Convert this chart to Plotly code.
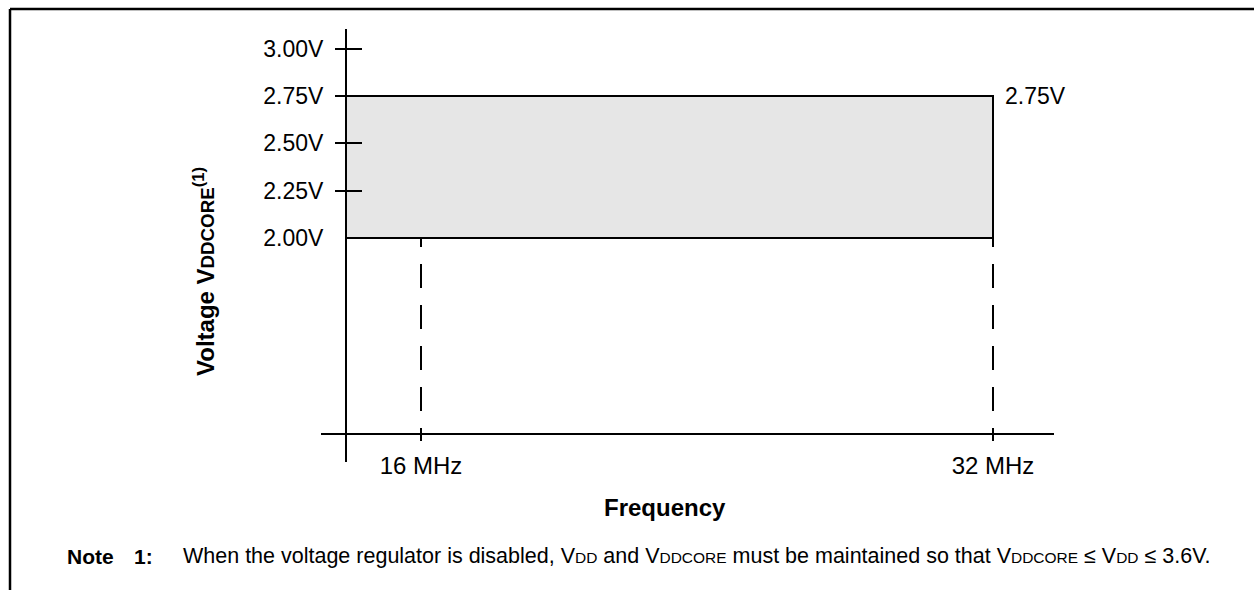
import plotly.graph_objects as go

# ---- values ----
freq_mhz = [16, 32]
freq_labels = ["16 MHz", "32 MHz"]
vddcore_min = 2.00
vddcore_max = 2.75
volt_ticks = [2.00, 2.25, 2.50, 2.75, 3.00]
volt_labels = ["2.00V", "2.25V", "2.50V", "2.75V", "3.00V"]
volt_marks = [2.25, 2.50, 2.75, 3.00]

# ---- layout geometry ----
W, H = 1254, 590
FONT = "Liberation Sans, Arial, sans-serif"
x_dom = [321 / W, 1054 / W]
y_dom = [(H - 462) / H, (H - 29) / H]
yaxis_pos = 346 / W          # vertical axis line (paper x)
xaxis_pos = (H - 434) / H    # horizontal axis line (paper y)
x_range = [13.2028, 33.7063]
y_range = [0.8169, 3.1039]


def paper_to_x(p):
    f = (p - x_dom[0]) / (x_dom[1] - x_dom[0])
    return x_range[0] + f * (x_range[1] - x_range[0])


def paper_to_y(p):
    f = (p - y_dom[0]) / (y_dom[1] - y_dom[0])
    return y_range[0] + f * (y_range[1] - y_range[0])


x_origin = paper_to_x(yaxis_pos)   # frequency where the voltage axis sits
y_origin = paper_to_y(xaxis_pos)   # voltage where the frequency axis sits

fig = go.Figure()

# operating region
fig.add_trace(go.Scatter(
    x=[x_origin, freq_mhz[-1], freq_mhz[-1], x_origin, x_origin],
    y=[vddcore_min, vddcore_min, vddcore_max, vddcore_max, vddcore_min],
    mode="lines", fill="toself", fillcolor="#e6e6e6",
    line=dict(color="black", width=2), hoverinfo="skip", showlegend=False,
))

# dashed drop lines from the region down to the frequency axis
for f in freq_mhz:
    fig.add_trace(go.Scatter(
        x=[f, f], y=[y_origin, vddcore_min], mode="lines",
        line=dict(color="black", width=2,
                  dash="0px,23px,24px,17px,24px,17px,24px,17px,24px,17px,24px"),
        hoverinfo="skip", showlegend=False,
    ))

axis_common = dict(showgrid=False, zeroline=False, fixedrange=True)

fig.update_layout(
    width=W, height=H,
    margin=dict(l=0, r=0, t=0, b=0),
    paper_bgcolor="white", plot_bgcolor="rgba(0,0,0,0)",
    font=dict(family=FONT, color="black", size=23),
    showlegend=False,
    xaxis=dict(
        domain=x_dom, range=x_range, anchor="free", position=xaxis_pos,
        showline=True, linecolor="black", linewidth=2,
        tickmode="array", tickvals=freq_mhz, ticktext=freq_labels,
        ticks="outside", ticklen=6, tickwidth=2, tickcolor="black",
        tickfont=dict(size=24), ticklabelstandoff=4, **axis_common,
    ),
    xaxis2=dict(
        overlaying="x", range=x_range, anchor="free", position=xaxis_pos,
        showline=False, tickmode="array", tickvals=freq_mhz,
        ticks="inside", ticklen=6, tickwidth=2, tickcolor="black",
        showticklabels=False, **axis_common,
    ),
    yaxis=dict(
        domain=y_dom, range=y_range, anchor="free", position=yaxis_pos,
        showline=True, linecolor="black", linewidth=2,
        tickmode="array", tickvals=volt_ticks, ticktext=volt_labels,
        ticks="", tickfont=dict(size=23), ticklabelstandoff=17,
        **axis_common,
    ),
    yaxis2=dict(
        overlaying="y", range=y_range, anchor="free", position=yaxis_pos,
        side="left", showline=False, tickmode="array", tickvals=volt_marks,
        ticks="outside", ticklen=11, tickwidth=2, tickcolor="black",
        showticklabels=False, **axis_common,
    ),
    yaxis3=dict(
        overlaying="y", range=y_range, anchor="free", position=yaxis_pos,
        side="left", showline=False, tickmode="array", tickvals=volt_marks,
        ticks="inside", ticklen=15, tickwidth=2, tickcolor="black",
        showticklabels=False, **axis_common,
    ),
)

# tie the extra tick axes to invisible traces so they render
fig.add_trace(go.Scatter(x=[None], y=[None], xaxis="x2", yaxis="y", showlegend=False))
fig.add_trace(go.Scatter(x=[None], y=[None], xaxis="x", yaxis="y2", showlegend=False))
fig.add_trace(go.Scatter(x=[None], y=[None], xaxis="x", yaxis="y3", showlegend=False))

title_small = "font-size:0.78em"
small = "font-size:0.72em"
note_y = (H - 556) / H
annotations = [
    dict(x=freq_mhz[-1], y=vddcore_max, xref="x", yref="y", text="2.75V",
         showarrow=False, xanchor="left", yanchor="middle", xshift=10,
         font=dict(size=23)),
    dict(x=665 / W, y=(H - 507) / H, xref="paper", yref="paper",
         text="<b>Frequency</b>", showarrow=False, xanchor="center",
         yanchor="middle", font=dict(size=24)),
    dict(x=204 / W, y=(H - 271) / H, xref="paper", yref="paper",
         text=f"<b>Voltage V<span style='{title_small}'>DDCORE</span><sup>(1)</sup></b>",
         textangle=-90, showarrow=False, xanchor="center", yanchor="middle",
         font=dict(size=24)),
    dict(x=65 / W, y=note_y, xref="paper", yref="paper",
         text="<b>Note</b>", showarrow=False, xanchor="left", yanchor="middle",
         font=dict(size=21)),
    dict(x=132 / W, y=note_y, xref="paper", yref="paper",
         text="<b>1:</b>", showarrow=False, xanchor="left", yanchor="middle",
         font=dict(size=21)),
    dict(x=181 / W, y=note_y, xref="paper", yref="paper",
         text=(f"When the voltage regulator is disabled, V<span style='{small}'>DD</span> "
               f"and V<span style='{small}'>DDCORE</span> must be maintained so that "
               f"V<span style='{small}'>DDCORE</span> \u2264 V<span style='{small}'>DD</span> "
               f"\u2264 3.6V."),
         showarrow=False, xanchor="left", yanchor="middle", font=dict(size=21.5)),
]
fig.update_layout(annotations=annotations)

# page frame
frame = dict(color="black", width=2.5)
fig.add_shape(type="line", xref="paper", yref="paper",
              x0=10 / W, x1=10 / W, y0=0, y1=(H - 9) / H, line=frame)
fig.add_shape(type="line", xref="paper", yref="paper",
              x0=10 / W, x1=1, y0=(H - 9) / H, y1=(H - 9) / H, line=frame)

fig.write_html("out.html")
